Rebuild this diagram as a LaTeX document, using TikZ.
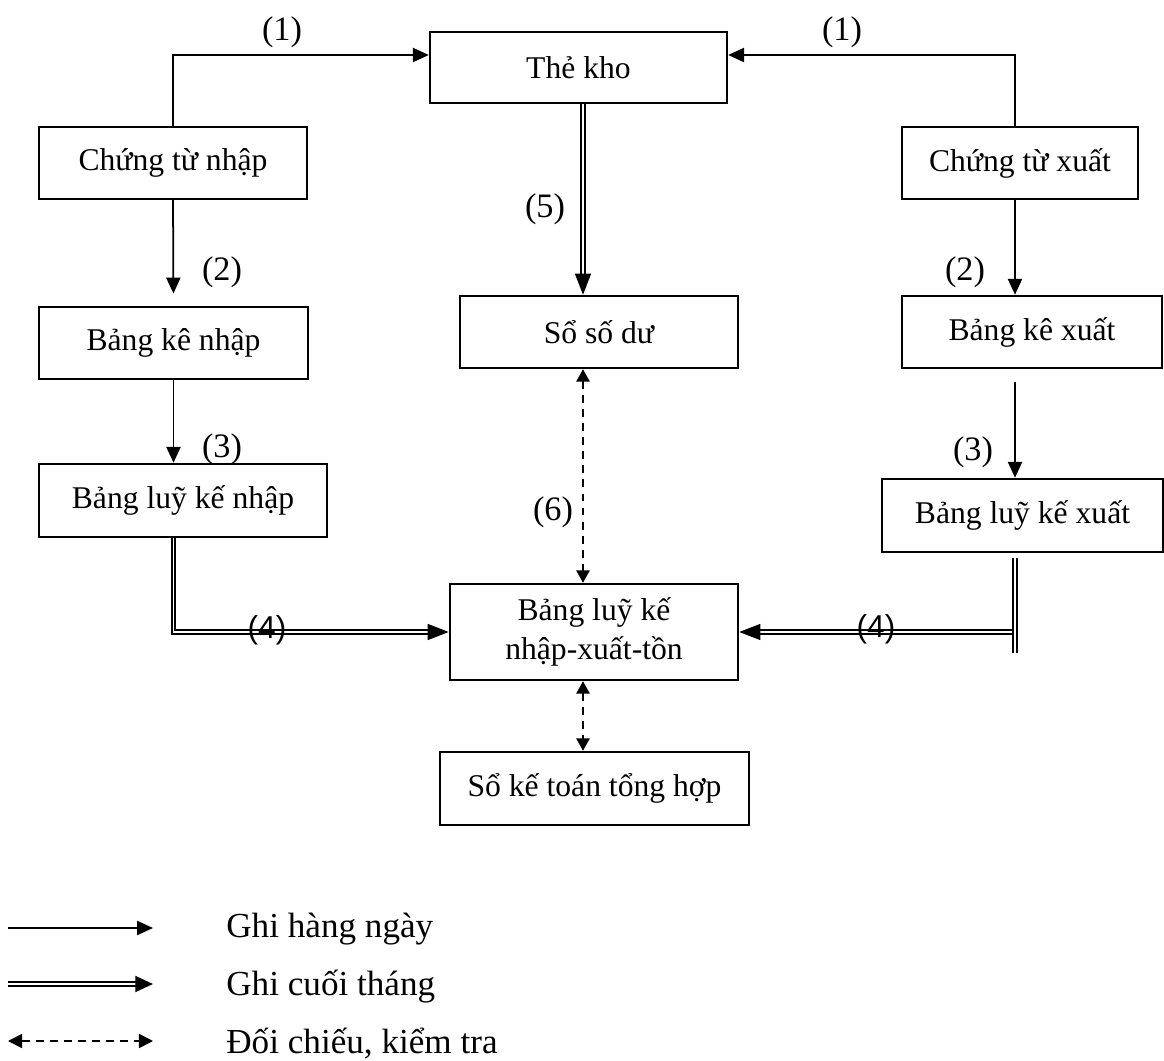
\documentclass[tikz,border=0pt]{standalone}
\usepackage{fontspec}
\setmainfont{Liberation Serif}
\newfontfamily\numfont{Liberation Sans}
\usetikzlibrary{arrows.meta}

\tikzset{
  box/.style={draw, line width=1.4pt, inner sep=0pt, align=center,
    font=\fontsize{18}{22.5}\selectfont},
  lbl/.style={inner sep=0pt, font=\fontsize{19.5}{23}\selectfont},
  daily/.style={line width=1pt, -{Triangle[length=9pt,width=8pt]}},
  monthly/.style={double, line width=1.1pt, double distance=1.1pt,
    -{Triangle[length=12pt,width=9pt]}},
  check/.style={line width=1pt, dash pattern=on 4.5pt off 3.5pt,
    {Triangle[length=7pt,width=7.5pt]}-{Triangle[length=7pt,width=7.5pt]}},
  legtext/.style={anchor=base west, inner sep=0pt,
    font=\fontsize{20}{24}\selectfont}
}

\begin{document}
\begin{tikzpicture}[x=0.02cm, y=-0.02cm, line join=miter]
\useasboundingbox (0,0) rectangle (1164,1061);
% các sổ, bảng
\node[box, minimum width=5.94cm, minimum height=1.42cm] (thekho) at (578.5,67.5) {Thẻ kho};
\node[box, minimum width=5.36cm, minimum height=1.44cm] (ctn) at (173,163) {Chứng từ nhập};
\node[box, minimum width=4.72cm, minimum height=1.44cm] (cty) at (1020,163) {Chứng từ xuất};
\node[box, minimum width=5.38cm, minimum height=1.44cm] (bkn) at (173.5,343) {Bảng kê nhập};
\node[box, minimum width=5.56cm, minimum height=1.44cm] (sodu) at (599,332) {Sổ số dư};
\node[box, minimum width=5.20cm, minimum height=1.44cm] (bkx) at (1032,332) {Bảng kê xuất};
\node[box, minimum width=5.76cm, minimum height=1.46cm] (bln) at (183,500.5) {Bảng luỹ kế nhập};
\node[box, minimum width=5.62cm, minimum height=1.46cm] (blx) at (1022.5,515.5) {Bảng luỹ kế xuất};
\node[box, minimum width=5.76cm, minimum height=1.92cm] (nxt) at (594,632) {Bảng luỹ kế\\nhập-xuất-tồn};
\node[box, minimum width=6.18cm, minimum height=1.46cm] (sktth) at (594.5,788.5) {Sổ kế toán tổng hợp};
\coordinate (spine) at (583,0);
\coordinate (rspine) at (1015,0);
\coordinate (top1) at (0,55);
% ghi hàng ngày
\draw[daily] (ctn.north) |- (thekho.west |- top1);
\draw[daily] (cty.north -| rspine) |- (thekho.east |- top1);
\draw[daily, shorten >=7pt] (ctn.south) -- (bkn.north);
\draw[daily] (bkn.south) -- (bkn.south |- bln.north);
\draw[daily] (cty.south -| rspine) -- (bkx.north -| rspine);
\draw[daily, shorten <=7pt] (bkx.south -| rspine) -- (blx.north -| rspine);
% ghi cuối tháng
\draw[monthly] (thekho.south -| spine) -- (sodu.north -| spine);
\draw[monthly] (bkn.south |- bln.south) |- (nxt.west);
\draw[monthly] (rspine |- nxt.east) -- (nxt.east);
\draw[monthly, -, shorten <=3pt] (blx.south -| rspine) -- ++(0,100);
% đối chiếu, kiểm tra
\draw[check] (sodu.south -| spine) -- (nxt.north -| spine);
\draw[check] (nxt.south -| spine) -- (sktth.north -| spine);
% số thứ tự
\node[lbl] (n1a) at (282,32) {(1)};
\node[lbl] (n1b) at (842,32) {(1)};
\node[lbl] (n2a) at (222,272) {(2)};
\node[lbl] (n2b) at (965,272) {(2)};
\node[lbl] (n3a) at (222,449) {(3)};
\node[lbl] (n3b) at (973,452) {(3)};
\node[lbl, font=\numfont\fontsize{18}{22}\selectfont] (n4a) at (267,630) {(4)};
\node[lbl, font=\numfont\fontsize{18}{22}\selectfont] (n4b) at (876,629) {(4)};
\node[lbl] (n5) at (545,209) {(5)};
\node[lbl] (n6) at (553,512) {(6)};
% chú thích
\coordinate (lg1a) at (8,928);
\coordinate (lg1b) at (153,928);
\coordinate (lg2a) at (8,984);
\coordinate (lg2b) at (153,984);
\coordinate (lg3a) at (8,1041);
\coordinate (lg3b) at (153,1041);
\draw[daily] (lg1a) -- (lg1b);
\draw[monthly, -{Triangle[length=10pt,width=9pt]}] (lg2a) -- (lg2b);
\draw[check, {Triangle[length=8pt,width=8pt]}-{Triangle[length=8pt,width=8pt]}] (lg3a) -- (lg3b);
\node[legtext] (lgt1) at (226,937) {Ghi hàng ngày};
\node[legtext] (lgt2) at (226,995) {Ghi cuối tháng};
\node[legtext] (lgt3) at (226,1053) {Đối chiếu, kiểm tra};
\end{tikzpicture}
\end{document}
